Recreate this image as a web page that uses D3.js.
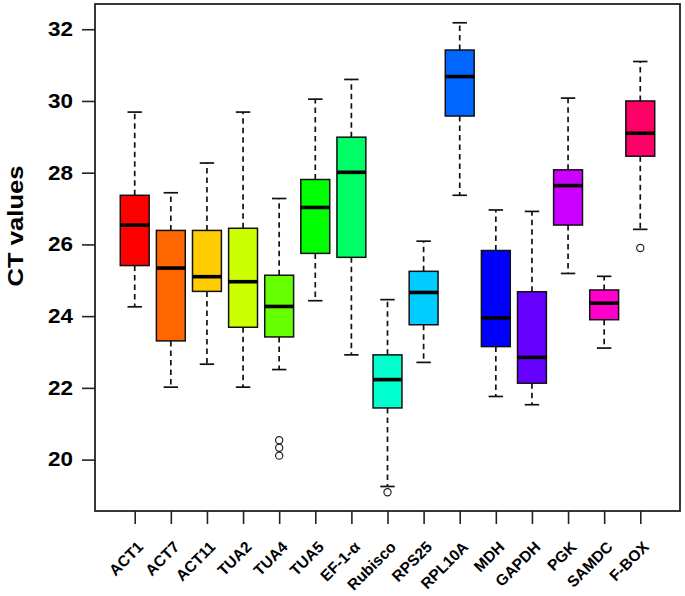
<!DOCTYPE html>
<html>
<head>
<meta charset="utf-8">
<script src="https://cdn.jsdelivr.net/npm/d3@7"></script>
<style>
  html, body { margin: 0; padding: 0; background: #fff; }
  svg { display: block; }
  text { font-family: "Liberation Sans", Arial, Helvetica, sans-serif; font-weight: bold; fill: #000; }
</style>
</head>
<body>
<svg id="chart" width="685" height="596"></svg>
<script>
const categories = ["ACT1","ACT7","ACT11","TUA2","TUA4","TUA5","EF-1-\u03b1","Rubisco","RPS25","RPL10A","MDH","GAPDH","PGK","SAMDC","F-BOX"];
const colors = ["#FF0000","#FF6600","#FFCC00","#CCFF00","#66FF00","#00FF00","#00FF66","#00FFCC","#00CCFF","#0066FF","#0000FF","#6600FF","#CC00FF","#FF00CC","#FF0066"];
const whiskerLow  = [24.26,22.02,22.66,22.02,22.51,24.43,22.92,19.25,22.71,27.37,21.76,21.53,25.19,23.11,26.42];
const q1          = [25.41,23.31,24.69,23.69,23.42,25.75,25.64,21.44,23.76,29.58,23.15,22.13,26.54,23.90,28.46];
const medians     = [26.54,25.34,25.10,24.96,24.27,27.03,28.01,22.23,24.66,30.68,23.95,22.85,27.64,24.36,29.10];
const q3          = [27.37,26.39,26.39,26.45,25.14,27.81,28.99,22.92,25.25,31.42,25.83,24.68,28.08,24.73,30.00];
const whiskerHigh = [29.69,27.44,28.27,29.69,27.28,30.05,30.60,24.46,26.09,32.18,26.96,26.92,30.08,25.11,31.10];
const outlierCat  = ["TUA4","TUA4","TUA4","Rubisco","F-BOX"];
const outlierVal  = [20.54,20.33,20.11,19.09,25.90];
const yTicks = [20,22,24,26,28,30,32];
const yLabel = "CT values";

const svg = d3.select("#chart");
const L = 95, R = 680, T = 4, B = 511;
const n = categories.length;
const xPad = n * 0.04;
const x = d3.scaleLinear().domain([0.5 - xPad, n + 0.5 + xPad]).range([L, R]);
const allVals = whiskerLow.concat(whiskerHigh, outlierVal);
const vmin = d3.min(allVals), vmax = d3.max(allVals);
const yPad = (vmax - vmin) * 0.04;
const y = d3.scaleLinear().domain([vmin - yPad, vmax + yPad]).range([B, T]);

const boxW = x(1.8) - x(1);
const capW = boxW / 2;

const g = svg.append("g");
const data = categories.map((c, i) => ({
  c, i: i + 1, col: colors[i], lo: whiskerLow[i], q1: q1[i], med: medians[i], q3: q3[i], hi: whiskerHigh[i]
}));

const box = g.selectAll("g.box").data(data).enter().append("g").attr("class", "box");
// whiskers (dashed)
box.append("line")
  .attr("x1", d => x(d.i)).attr("x2", d => x(d.i))
  .attr("y1", d => y(d.q3)).attr("y2", d => y(d.hi))
  .attr("stroke", "#111").attr("stroke-width", 1.7).attr("stroke-dasharray", "5.5,4");
box.append("line")
  .attr("x1", d => x(d.i)).attr("x2", d => x(d.i))
  .attr("y1", d => y(d.q1)).attr("y2", d => y(d.lo))
  .attr("stroke", "#111").attr("stroke-width", 1.7).attr("stroke-dasharray", "5.5,4");
// staples
box.append("line")
  .attr("x1", d => x(d.i) - capW / 2).attr("x2", d => x(d.i) + capW / 2)
  .attr("y1", d => y(d.hi)).attr("y2", d => y(d.hi))
  .attr("stroke", "#111").attr("stroke-width", 1.7);
box.append("line")
  .attr("x1", d => x(d.i) - capW / 2).attr("x2", d => x(d.i) + capW / 2)
  .attr("y1", d => y(d.lo)).attr("y2", d => y(d.lo))
  .attr("stroke", "#111").attr("stroke-width", 1.7);
// box
box.append("rect")
  .attr("x", d => x(d.i) - boxW / 2).attr("width", boxW)
  .attr("y", d => y(d.q3)).attr("height", d => y(d.q1) - y(d.q3))
  .attr("fill", d => d.col).attr("stroke", "#111").attr("stroke-width", 1.5);
// median
box.append("line")
  .attr("x1", d => x(d.i) - boxW / 2).attr("x2", d => x(d.i) + boxW / 2)
  .attr("y1", d => y(d.med)).attr("y2", d => y(d.med))
  .attr("stroke", "#000").attr("stroke-width", 3.6);

// outliers
g.selectAll("circle.out").data(outlierVal.map((v, k) => ({ v, i: categories.indexOf(outlierCat[k]) + 1 })))
  .enter().append("circle").attr("class", "out")
  .attr("cx", d => x(d.i)).attr("cy", d => y(d.v)).attr("r", 3.6)
  .attr("fill", "none").attr("stroke", "#222").attr("stroke-width", 1.2);

// frame
svg.append("rect").attr("x", L).attr("y", T).attr("width", R - L).attr("height", B - T)
  .attr("fill", "none").attr("stroke", "#222").attr("stroke-width", 1.8);

// y axis
const yAxis = svg.append("g").attr("transform", `translate(${L},0)`)
  .call(d3.axisLeft(y).tickValues(yTicks).tickSize(13).tickPadding(9).tickFormat(d3.format("d")));
yAxis.select(".domain").remove();
yAxis.selectAll(".tick line").attr("stroke", "#222").attr("stroke-width", 1.6);
yAxis.selectAll(".tick text").style("font-size", "20px").attr("fill", "#000")
  .attr("textLength", 25).attr("lengthAdjust", "spacingAndGlyphs");

// x axis
const xAxis = svg.append("g").attr("transform", `translate(0,${B})`)
  .call(d3.axisBottom(x).tickValues(d3.range(1, n + 1)).tickSize(13).tickFormat(d => categories[d - 1]));
xAxis.select(".domain").remove();
xAxis.selectAll(".tick line").attr("stroke", "#222").attr("stroke-width", 1.6);
xAxis.selectAll(".tick text")
  .style("font-size", "15.5px").attr("fill", "#000")
  .attr("text-anchor", "end")
  .attr("dy", null).attr("y", 0)
  .attr("transform", "translate(9,37) rotate(-45)");

// y label
svg.append("text")
  .attr("transform", "translate(23,226) rotate(-90)")
  .attr("text-anchor", "middle")
  .style("font-size", "22.5px")
  .attr("textLength", 121).attr("lengthAdjust", "spacingAndGlyphs")
  .text(yLabel);
</script>
</body>
</html>
